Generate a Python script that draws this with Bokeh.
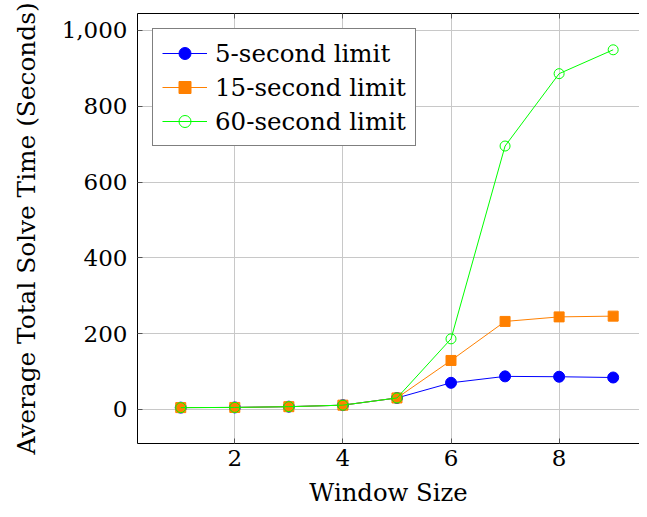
from bokeh.plotting import figure
from bokeh.models import Range1d, NumeralTickFormatter, FixedTicker, LinearAxis, Legend, LegendItem
from bokeh.embed import file_html
from bokeh.resources import INLINE

window_size = [1, 2, 3, 4, 5, 6, 7, 8, 9]
limit_5 = [4.5, 5, 7, 11, 30, 70, 87, 86, 84]
limit_15 = [4.5, 5, 7, 11, 30, 129, 232, 244, 246]
limit_60 = [4.5, 5, 7, 11, 30, 186, 695, 886, 949]
x_ticks = [2, 4, 6, 8]
y_ticks = [0, 200, 400, 600, 800, 1000]

FONT = "DejaVu Serif"

p = figure(width=639, height=509, output_backend="svg", toolbar_location=None,
           x_range=Range1d(0.2, 9.487), y_range=Range1d(-90.2, 1044.8),
           min_border_left=137, min_border_right=0, min_border_top=13, min_border_bottom=66)
p.outline_line_color = None
p.background_fill_color = "white"
p.border_fill_color = "white"

for ax in [p.xaxis[0], p.yaxis[0]]:
    ax.major_label_text_font = FONT
    ax.major_label_text_font_size = "23px"
    ax.major_label_text_color = "black"
    ax.axis_label_text_font = FONT
    ax.axis_label_text_font_style = "normal"
    ax.axis_label_text_color = "black"
    ax.axis_line_color = "black"
    ax.axis_line_width = 1
    ax.major_tick_in = 5
    ax.major_tick_out = 0
    ax.major_tick_line_color = "#555555"
    ax.minor_tick_line_color = None

p.xaxis[0].axis_label_text_font_size = "24.3px"
p.yaxis[0].axis_label_text_font_size = "24.8px"
p.xaxis[0].ticker = FixedTicker(ticks=x_ticks)
p.yaxis[0].ticker = FixedTicker(ticks=y_ticks)
p.yaxis[0].formatter = NumeralTickFormatter(format="0,0")
p.xaxis[0].axis_label = "Window Size"
p.yaxis[0].axis_label = "Average Total Solve Time (Seconds)"
p.xaxis[0].major_label_standoff = 6
p.yaxis[0].major_label_standoff = 10
p.xaxis[0].axis_label_standoff = 9
p.yaxis[0].axis_label_standoff = 18

top = LinearAxis(ticker=FixedTicker(ticks=x_ticks),
                 major_label_overrides={t: "" for t in x_ticks},
                 major_tick_in=5, major_tick_out=0, axis_line_color="black",
                 major_tick_line_color="#555555", minor_tick_line_color=None,
                 major_label_standoff=0, axis_label_standoff=0)
p.add_layout(top, "above")

p.xgrid.ticker = FixedTicker(ticks=x_ticks)
p.ygrid.ticker = FixedTicker(ticks=y_ticks)
p.grid.grid_line_color = "#c8c8c8"
p.grid.grid_line_width = 1

l1 = p.line(window_size, limit_5, line_color="#0000ff", line_width=1)
m1 = p.scatter(window_size, limit_5, marker="circle", size=11, fill_color="#0000ff", line_color="#0000ff")
l2 = p.line(window_size, limit_15, line_color="#ff8000", line_width=1)
m2 = p.scatter(window_size, limit_15, marker="square", size=10, fill_color="#ff8000", line_color="#ff8000")
l3 = p.line(window_size, limit_60, line_color="#00ff00", line_width=1)
m3 = p.scatter(window_size, limit_60, marker="circle", size=10, fill_color=None, line_color="#00ff00", line_width=1)

legend = Legend(items=[
    LegendItem(label="5-second limit", renderers=[l1, m1]),
    LegendItem(label="15-second limit", renderers=[l2, m2]),
    LegendItem(label="60-second limit", renderers=[l3, m3]),
], location="top_left")
legend.label_text_font = FONT
legend.label_text_font_size = "24.5px"
legend.label_text_color = "black"
legend.glyph_width = 45
legend.glyph_height = 30
legend.label_height = 30
legend.label_standoff = 8
legend.spacing = 4
legend.padding = 9
legend.margin = 15
legend.border_line_color = "black"
legend.border_line_width = 1
legend.background_fill_alpha = 1
p.add_layout(legend, "center")

open("out.html", "w").write(file_html(p, INLINE))
